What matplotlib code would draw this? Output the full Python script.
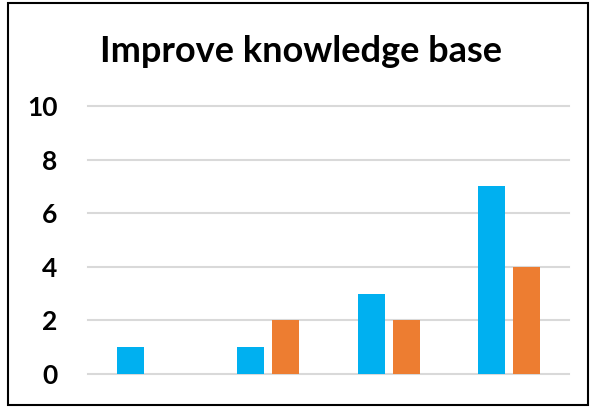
import matplotlib.pyplot as plt
import numpy as np
from matplotlib.patches import Rectangle

# data
categories = ['A', 'B', 'C', 'D']
series_blue = [1, 1, 3, 7]
series_orange = [0, 2, 2, 4]
yticks = [0, 2, 4, 6, 8, 10]

fig = plt.figure(figsize=(5.91, 4.08), dpi=100)
ax = fig.add_axes([88 / 591, 1 - 374 / 408, (569 - 88) / 591, (374 - 106) / 408])

x = np.arange(len(categories))
w = 0.224
off = 0.145
ax.bar(x - off, series_blue, w, color='#00B0F0', zorder=3)
ax.bar(x + off, series_orange, w, color='#ED7D31', zorder=3)

ax.set_xlim(-0.5, 3.5)
ax.set_ylim(0, 10)
ax.set_yticks(yticks)
ax.set_yticklabels([str(t) for t in yticks], fontsize=19, fontweight='bold',
                   family=['Lato', 'DejaVu Sans'])
ax.set_xticks([])
ax.tick_params(axis='y', length=0, pad=22)
ax.grid(axis='y', color='#D9D9D9', linewidth=1.5, zorder=0)
for s in ax.spines.values():
    s.set_visible(False)
for gl in ax.get_ygridlines():
    gl.set_clip_on(False)

fig.text(301 / 591, 1 - 51 / 408, 'Improve knowledge base', ha='center', va='center',
         fontsize=26, fontweight='bold', family=['Lato', 'DejaVu Sans'])

# chart border
fig.patches.append(Rectangle((8 / 591, 3 / 408), (588 - 8) / 591, (405 - 3) / 408,
                             transform=fig.transFigure, fill=False,
                             edgecolor='black', linewidth=1.5))

fig.savefig('out.png', dpi=100)
